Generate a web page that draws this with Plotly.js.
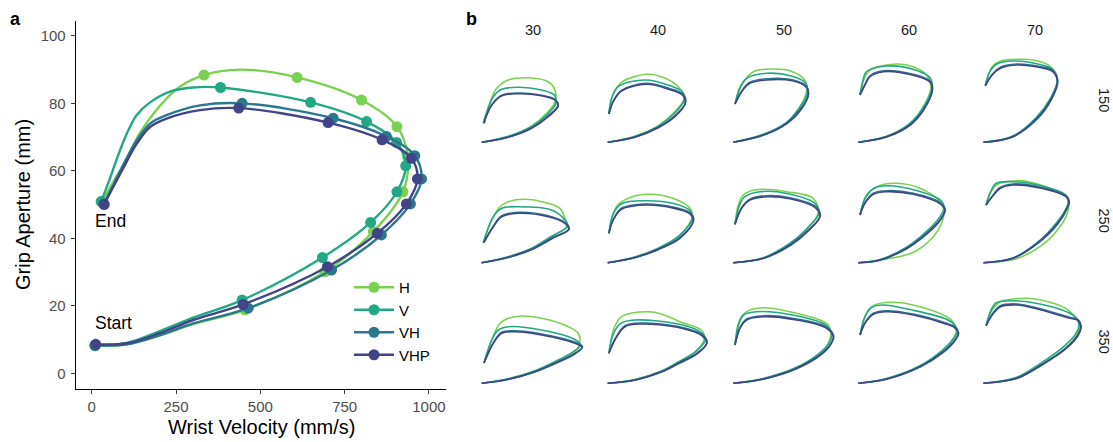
<!DOCTYPE html>
<html><head><meta charset="utf-8">
<script src="https://cdn.plot.ly/plotly-3.0.1.min.js"></script>
<style>html,body{margin:0;padding:0;background:#fff}</style>
</head><body><div id="chart" style="width:1113px;height:442px"></div>
<script>
// ---------- series ----------
const seriesNames = ['H', 'V', 'VH', 'VHP'];
const seriesColors = ['#7AD151', '#22A884', '#2A788E', '#414487'];

// ---------- panel a : marker points (wrist velocity mm/s, grip aperture mm) ----------
const aH_v   = [10, 454, 691, 835, 923, 937, 905, 800, 609, 333, 30];
const aH_g   = [8.2, 18.8, 30.1, 42, 53.8, 64, 73.1, 81, 87.7, 88.4, 50.9];
const aV_v   = [10, 446, 684, 827, 905, 931, 904, 815, 649, 382, 28];
const aV_g   = [8.2, 21.7, 34.3, 44.7, 53.8, 61.5, 68.4, 74.6, 80.3, 84.7, 50.9];
const aVH_v  = [10, 464, 711, 859, 945, 978, 958, 874, 716, 446, 36];
const aVH_g  = [8.3, 19.3, 30.6, 41, 50.2, 57.6, 64.5, 70.2, 75.6, 80, 50.3];
const aVHP_v = [12, 449, 699, 847, 933, 966, 948, 861, 701, 436, 37];
const aVHP_g = [8.6, 20.4, 31.6, 41.5, 50.2, 57.6, 63.7, 69.2, 74.3, 78.6, 50];

// ---------- panel a : traced line paths ----------
const aH_path_v   = [10, 104, 202, 301, 454, 691, 835, 923, 937, 905, 800, 609, 440, 333, 262, 200, 143, 100, 60, 30];
const aH_path_g   = [8.2, 8.5, 11.2, 14.6, 18.8, 30.1, 42, 53.8, 64, 73.1, 81, 87.7, 90, 88.4, 85, 79, 71.2, 63, 56, 50.9];
const aV_path_v   = [10, 104, 202, 301, 446, 684, 827, 905, 931, 904, 815, 649, 382, 300, 232, 173, 133, 104, 78, 55, 28];
const aV_path_g   = [8.2, 9, 12.5, 16.5, 21.7, 34.3, 44.7, 53.8, 61.5, 68.4, 74.6, 80.3, 84.7, 84.7, 83.5, 80.3, 76.5, 71, 64.5, 58, 50.9];
const aVH_path_v  = [10, 104, 202, 301, 464, 711, 859, 945, 978, 958, 874, 716, 446, 321, 222, 173, 130, 100, 60, 36];
const aVH_path_g  = [8.3, 8.6, 11.3, 14.8, 19.3, 30.6, 41, 50.2, 57.6, 64.5, 70.2, 75.6, 80, 79.4, 76.5, 74, 68.5, 63, 55, 50.3];
const aVHP_path_v = [12, 104, 202, 301, 449, 699, 847, 933, 966, 948, 861, 701, 436, 321, 222, 173, 130, 100, 60, 37];
const aVHP_path_g = [8.6, 8.9, 11.9, 15.8, 20.4, 31.6, 41.5, 50.2, 57.6, 63.7, 69.2, 74.3, 78.6, 78, 75.5, 73, 67.5, 62, 54.5, 50];

const aXTicks = [0, 250, 500, 750, 1000];
const aYTicks = [0, 20, 40, 60, 80, 100];

// ---------- panel b : facets (columns = size, rows = distance) ----------
const colLabels = ['30', '40', '50', '60', '70'];
const rowLabels = ['150', '250', '350'];

// each: [H, V, VH, VHP]
const b150_30_v = [[10,276,509,659,743,736,659,443,276,160,83,26],[10,276,509,659,752,736,609,376,210,126,76,26],[10,276,509,676,772,743,609,376,210,110,60,33],[10,276,509,676,776,743,609,376,210,110,60,33]];
const b150_30_g = [[8,13.6,24.3,37,48.6,62,69.3,72.6,70.3,62,45.3,27],[8,14,23.6,35.3,47,55.3,60.3,63,61,53.6,42,27],[8,13.3,22.6,34.6,45.3,51,55,57.3,55,45.3,35.3,27],[8,13,22,33.6,44.3,50.3,54.6,56.6,54.6,45.3,35.3,27]];
const b150_40_v = [[10,282,515,665,775,716,548,398,148,60,22],[10,282,515,670,775,760,620,381,115,50,22],[10,282,515,681,790,765,620,398,148,65,22],[10,282,515,681,785,760,620,398,148,65,22]];
const b150_40_g = [[8,13.6,24.5,37,52,63.6,73.6,76,68,55,37],[8,14,24,36,50,58,65,70.3,63.6,52,36.3],[8,13.3,23,34.5,48,56,62,67,60,49,36.3],[8,13,22.6,33.6,47,55,61,66,59.3,48.6,36.3]];
const b150_50_v = [[10,310,543,665,740,726,576,410,210,100,27],[10,310,543,670,750,735,600,343,143,76,27],[10,310,543,680,762,742,600,343,176,93,27],[10,310,543,676,759,740,600,343,176,93,27]];
const b150_50_g = [[8,15.5,27.5,42,58,70,79.6,81.3,78.6,66,46.3],[8,16,28,42,57,67,74,77,72,63,46.3],[8,15,26.5,39.5,56,64,70.5,71.5,68,59,46.3],[8,15.3,27,40.3,55.3,63,69.5,70.3,67,58.6,46.3]];
const b150_60_v = [[10,293,520,650,735,693,560,393,127,77,27],[10,293,520,655,745,730,590,293,93,53,27],[10,293,526,662,752,732,560,260,127,77,27],[10,293,526,660,750,730,560,260,127,77,27]];
const b150_60_g = [[8,13.8,26,42,62,75.3,83.6,86.3,80.3,73.6,55.3],[8,14,26.5,42,62,72,80,84.3,78.6,68.6,55.3],[8,13.3,25,40,61,69,76,79.5,74.5,66,55.3],[8,13.5,25.3,40.3,60,68,75,78.6,73.6,65.3,55.3]];
const b150_70_v = [[10,301,540,685,750,669,505,383,179,97,28],[10,301,540,685,748,700,587,301,138,70,28],[10,301,550,693,752,705,587,342,179,97,28],[10,301,546,690,750,700,587,342,179,97,28]];
const b150_70_g = [[8,14,32.5,52.5,71,84.5,90.3,91,89.3,83.6,64.6],[8,14,33,53,70,81,85.5,89.3,86,78,64.6],[8,13.4,31.5,51.5,69,80,83.5,86.3,83,76,64.6],[8,13.6,32,52,68.6,79,82.5,85.3,82,75.3,64.6]];

const b250_30_v = [[10,276,509,700,865,842,792,609,443,276,193,110,26],[10,276,509,700,870,842,709,376,210,126,26],[10,276,509,712,885,845,676,376,210,126,30],[10,276,509,709,882,842,676,376,210,126,30]];
const b250_30_g = [[8,13.8,22,33.5,45,52.4,62.4,69,71.4,69,64,50.7,28],[8,14,22.4,34,44.5,50.7,60.7,64,62.4,54,28],[8,13.2,21,32,42,48,55,58.4,55,44.5,28],[8,13.4,21.4,32.4,41.4,47.4,54,57.4,54,44,28]];
const b250_40_v = [[10,282,515,725,855,833,700,415,215,98,22],[10,282,515,725,860,835,680,381,148,65,22],[10,282,515,735,870,835,650,381,148,65,22],[10,282,515,733,866,830,650,381,148,65,22]];
const b250_40_g = [[8,13.5,22,34.5,54,62.4,71,76.4,72.4,64,37.4],[8,13.8,22.5,35,53,60,67,70,67,57,37.4],[8,13,21,32.5,51,58,64,66.7,62.4,51,37.4],[8,13.2,21.5,33,50,57,63,65.7,61.4,50.7,37.4]];
const b250_50_v = [[10,310,570,735,860,809,543,310,176,110,60,27],[10,310,570,735,865,830,560,276,126,70,27],[10,310,580,748,880,835,576,343,176,93,27],[10,310,576,743,876,830,576,343,176,93,27]];
const b250_50_g = [[8,12.8,26.5,40.5,58,72.4,79,81.4,79.5,75.7,65.7,46.4],[8,13,27,41,57,67,77,79,74,65,46.4],[8,12.2,25.2,38.5,55,64,73,75,71.5,63,46.4],[8,12.4,25.7,39,54,63,72,74,70.7,62.4,46.4]];
const b250_60_v = [[10,293,560,760,845,868,826,627,393,193,93,27],[10,227,493,690,820,868,826,600,293,160,77,27],[10,227,493,700,830,880,830,560,293,160,77,27],[10,227,493,693,826,876,826,560,293,160,77,27]];
const b250_60_g = [[8,11.7,18.4,34,48,60,69,82.4,87.4,84,75.7,55.7],[8,11.2,23.5,39,53,63,71,80,85,82,72,55.7],[8,10.5,22,37,50.5,61,68,77.5,80,77.5,68,55.7],[8,10.7,22.4,37.4,50.7,60.7,67,76.4,79,76.4,67.4,55.7]];
const b250_70_v = [[10,340,587,760,850,860,840,750,505,342,138,77,36],[10,301,546,745,848,860,830,587,301,138,77,36],[10,301,550,755,855,868,840,587,301,179,97,36],[10,301,546,750,852,864,835,587,301,179,97,36]];
const b250_70_g = [[8,12,25,42,58,67,74,79,88,90,85.7,77.4,65.7],[8,12.6,28,48.5,65,70,76,85,89,87.4,78,65.7],[8,12.2,27,47,64,69.5,74.5,83.4,86.7,83.4,74.5,65.7],[8,12.4,27.4,47.4,64,69,74,82.4,85.7,82.4,74,65.7]];

const b350_30_v = [[10,276,542,770,942,992,976,876,609,409,276,193,110,33],[10,276,542,770,930,1000,950,609,276,176,110,33],[10,276,542,780,945,1018,945,609,343,210,126,33],[10,276,542,776,942,1015,942,609,343,210,126,33]];
const b350_30_g = [[8,12.3,20,30.5,39.6,49.6,58,64.6,73,75.3,73,68,51.3,28.3],[8,12.5,20.5,31,40,46,51.3,61.3,64.6,61.3,51.3,28.3],[8,11.8,19.3,29.2,37.5,44.5,49,57.3,60.5,59,48.5,28.3],[8,12,19.6,29.6,38,44,48,56.3,59.6,58,48,28.3]];
const b350_40_v = [[10,282,548,710,890,975,950,731,548,415,148,70,22],[10,282,548,710,890,985,955,750,281,140,65,22],[10,282,548,718,905,1005,965,750,348,182,82,22],[10,282,548,715,900,1000,960,750,348,182,82,22]];
const b350_40_g = [[8,11.5,20,28.5,39.5,53,61,69.6,77.3,79.6,74.6,62,38],[8,11.8,20.4,29,40,51,58,66.5,71.3,68,57,38],[8,11.1,19.3,27.5,37.5,49,56,64,68.3,65.5,52,38],[8,11.3,19.6,28,38,48,55,63,67.3,64.6,51.3,38]];
const b350_50_v = [[10,310,643,870,960,985,959,876,576,310,143,76,27],[10,310,643,870,965,995,940,643,243,110,60,27],[10,310,643,880,980,1014,946,643,310,143,76,27],[10,310,643,876,976,1010,943,643,310,143,76,27]];
const b350_50_g = [[8,12.6,23.6,37.5,48,58,66.3,71.3,79.6,83.6,79.6,69.6,46.3],[8,12.8,24,38,48,57,66,75.5,79.6,76.3,67,46.3],[8,12.1,22.6,36,46,55.5,64,72.3,75.6,72.3,63.5,46.3],[8,12.3,23,36.3,46.3,54.6,63,71.3,74.6,71.3,63,46.3]];
const b350_60_v = [[10,293,626,850,960,990,960,893,626,360,160,93,27],[10,293,626,850,965,1000,965,893,560,260,143,77,27],[10,293,626,864,980,1014,978,893,560,293,160,77,27],[10,293,626,860,976,1010,975,893,560,293,160,77,27]];
const b350_60_g = [[8,12.6,25,40.5,53,61,69,74.6,84.6,89,85.6,78,56.3],[8,12.8,25.5,41,53,60,67,72,81,86.3,84,75,56.3],[8,12.1,24.2,39.2,51,58.5,64.5,68,77.3,80.6,78,68.5,56.3],[8,12.3,24.6,39.6,51.3,58,63.5,67,76.3,79.6,77,68,56.3]];
const b350_70_v = [[10,342,587,832,950,975,954,832,587,424,179,97,36],[10,342,580,815,935,965,940,873,587,301,138,80,36],[10,342,590,835,958,987,958,873,587,342,179,97,36],[10,342,587,832,954,983,954,873,587,342,179,97,36]];
const b350_70_g = [[8,13.3,26.8,43.5,58,68,71.3,83,91.3,93,89.6,81.3,65.6],[8,14,28,45,58,66,73,78,87,90.6,88.6,80,65.6],[8,12.8,26,42.6,56,65,71.5,74,82.3,87.3,85.5,77,65.6],[8,13,26.3,43,56.3,64.6,71,73,81.3,86.3,84.6,76.3,65.6]];

const facetV = [[b150_30_v,b150_40_v,b150_50_v,b150_60_v,b150_70_v],[b250_30_v,b250_40_v,b250_50_v,b250_60_v,b250_70_v],[b350_30_v,b350_40_v,b350_50_v,b350_60_v,b350_70_v]];
const facetG = [[b150_30_g,b150_40_g,b150_50_g,b150_60_g,b150_70_g],[b250_30_g,b250_40_g,b250_50_g,b250_60_g,b250_70_g],[b350_30_g,b350_40_g,b350_50_g,b350_60_g,b350_70_g]];

// ---------- layout helpers ----------
const W = 1113, H = 442;
const FONT = 'Liberation Sans, Arial, sans-serif';
const px = x => x / W;
const py = y => 1 - y / H;

const traces = [];
const aPaths = [[aH_path_v, aH_path_g], [aV_path_v, aV_path_g], [aVH_path_v, aVH_path_g], [aVHP_path_v, aVHP_path_g]];
const aPts = [[aH_v, aH_g], [aV_v, aV_g], [aVH_v, aVH_g], [aVHP_v, aVHP_g]];
for (let s = 0; s < 4; s++) {
  traces.push({x: aPaths[s][0], y: aPaths[s][1], xaxis: 'x', yaxis: 'y', mode: 'lines', type: 'scatter',
    line: {color: seriesColors[s], width: 2.4, shape: 'spline', smoothing: 1}, showlegend: false, hoverinfo: 'skip'});
  traces.push({x: aPts[s][0], y: aPts[s][1], xaxis: 'x', yaxis: 'y', mode: 'markers', type: 'scatter',
    marker: {color: seriesColors[s], size: 11}, showlegend: false});
}
for (let s = 0; s < 4; s++) {
  traces.push({x: [null], y: [null], xaxis: 'x', yaxis: 'y', mode: 'lines+markers', type: 'scatter', name: seriesNames[s],
    line: {color: seriesColors[s], width: 2.4}, marker: {color: seriesColors[s], size: 11}, showlegend: true});
}

const layout = {
  width: W, height: H, margin: {l: 0, r: 0, t: 0, b: 0},
  paper_bgcolor: '#fff', plot_bgcolor: '#fff',
  font: {family: FONT, color: '#000'},
  showlegend: true,
  legend: {x: px(349), y: py(271), xanchor: 'left', yanchor: 'top', bgcolor: 'rgba(0,0,0,0)',
    font: {size: 15, color: '#000', family: FONT}, itemwidth: 40, tracegroupgap: 0},
  xaxis: {domain: [px(75.7), px(445.7)], range: [-47.4, 1049.6], tickvals: aXTicks, ticks: 'outside', ticklen: 4,
    tickcolor: '#333', tickwidth: 1, tickfont: {size: 15, color: '#4D4D4D', family: FONT}, showline: true,
    linecolor: '#000', linewidth: 1, showgrid: false, zeroline: false, anchor: 'y', fixedrange: true},
  yaxis: {domain: [py(389), py(20.7)], range: [-4.65, 104.5], tickvals: aYTicks, ticks: 'outside', ticklen: 4,
    tickcolor: '#333', tickwidth: 1, tickfont: {size: 15, color: '#4D4D4D', family: FONT}, showline: true,
    linecolor: '#000', linewidth: 1, showgrid: false, zeroline: false, anchor: 'x', fixedrange: true,
    ticklabelstandoff: 2},
  annotations: [
    {text: '<b>a</b>', x: px(15), y: py(19), xref: 'paper', yref: 'paper', showarrow: false, font: {size: 18, color: '#000'}, xanchor: 'center', yanchor: 'middle'},
    {text: '<b>b</b>', x: px(471), y: py(19), xref: 'paper', yref: 'paper', showarrow: false, font: {size: 18, color: '#000'}, xanchor: 'center', yanchor: 'middle'},
    {text: 'Wrist Velocity (mm/s)', x: px(261), y: py(427), xref: 'paper', yref: 'paper', showarrow: false, font: {size: 20, color: '#000'}, xanchor: 'center', yanchor: 'middle'},
    {text: 'Grip Aperture (mm)', x: px(23), y: py(205), xref: 'paper', yref: 'paper', showarrow: false, textangle: -90, font: {size: 20, color: '#000'}, xanchor: 'center', yanchor: 'middle'},
    {text: 'End', x: 3, y: 45, xref: 'x', yref: 'y', showarrow: false, font: {size: 17.5, color: '#000'}, xanchor: 'left', yanchor: 'middle'},
    {text: 'Start', x: 3, y: 15, xref: 'x', yref: 'y', showarrow: false, font: {size: 17.5, color: '#000'}, xanchor: 'left', yanchor: 'middle'}
  ]
};

// facets
const colX0 = [480.7, 606.7, 732.3, 857.3, 982.5];
const rowG0 = [150.3, 270.7, 391.3];
for (let r = 0; r < 3; r++) {
  for (let c = 0; c < 5; c++) {
    const n = 2 + r * 5 + c;
    const x0 = colX0[c], g0 = rowG0[r];
    layout['xaxis' + n] = {domain: [px(x0 - 6), px(x0 + 112)], range: [-60, 1120], visible: false, anchor: 'y' + n, fixedrange: true};
    layout['yaxis' + n] = {domain: [py(g0 + 6), py(g0 - 112)], range: [-6, 112], visible: false, anchor: 'x' + n, fixedrange: true};
    for (let s = 0; s < 4; s++) {
      traces.push({x: facetV[r][c][s], y: facetG[r][c][s], xaxis: 'x' + n, yaxis: 'y' + n, type: 'scatter', mode: 'lines',
        line: {color: seriesColors[s], width: 1.6, shape: 'spline', smoothing: 1}, showlegend: false, hoverinfo: 'skip'});
    }
  }
}
const colCenters = [533.3, 658, 783.5, 909, 1034.5];
colLabels.forEach((t, i) => layout.annotations.push({text: t, x: px(colCenters[i]), y: py(30), xref: 'paper', yref: 'paper',
  showarrow: false, font: {size: 14.5, color: '#1A1A1A'}, xanchor: 'center', yanchor: 'middle'}));
const rowCenters = [100, 220.5, 341.5];
rowLabels.forEach((t, i) => layout.annotations.push({text: t, x: px(1104), y: py(rowCenters[i]), xref: 'paper', yref: 'paper',
  showarrow: false, textangle: 90, font: {size: 14.5, color: '#1A1A1A'}, xanchor: 'center', yanchor: 'middle'}));

Plotly.newPlot('chart', traces, layout, {displayModeBar: false, staticPlot: true});
</script></body></html>
